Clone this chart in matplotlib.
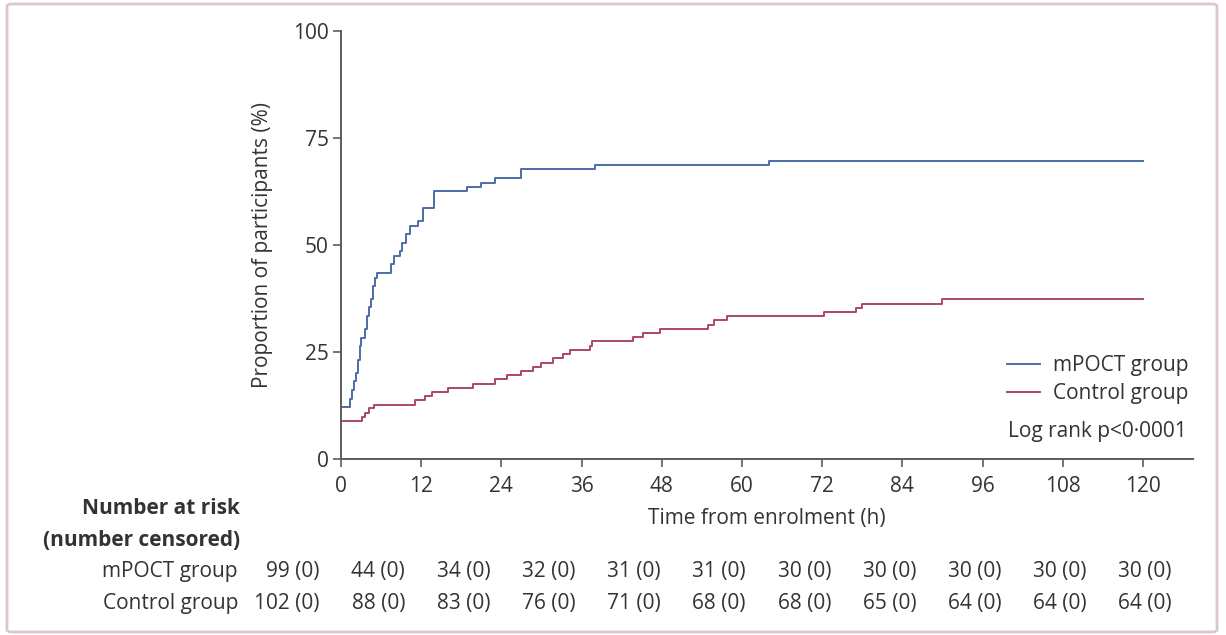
import matplotlib
matplotlib.use("Agg")
import matplotlib.pyplot as plt
from matplotlib.patches import FancyBboxPatch

plt.rcParams["font.family"] = ["Open Sans", "DejaVu Sans"]

# cumulative proportion (%) reaching the endpoint, step changes (time in h)
mpoct_time = [0, 1.4, 1.7, 2.0, 2.3, 2.6, 2.8, 3.0, 3.6, 3.9, 4.2, 4.5, 4.8, 5.1,
              5.4, 7.5, 7.9, 8.8, 9.2, 9.8, 10.3, 11.5, 12.2, 13.9, 18.8, 21.0,
              23.0, 27.0, 38.0, 64.0, 120]
mpoct_pct = [12.1, 14.1, 16.2, 18.2, 20.2, 23.2, 26.3, 28.3, 30.3, 33.3, 35.4,
             37.4, 40.4, 42.4, 43.4, 45.5, 47.5, 48.5, 50.5, 52.5, 54.5, 55.6,
             58.6, 62.6, 63.6, 64.6, 65.7, 67.7, 68.7, 69.7, 69.7]

control_time = [0, 3.1, 3.6, 4.2, 5.0, 11.1, 12.5, 13.6, 16.0, 19.8, 23.0, 24.8,
                27.0, 28.8, 30.0, 31.7, 33.2, 34.2, 37.3, 37.6, 43.7, 45.2, 47.8,
                54.9, 55.8, 57.8, 72.3, 77.1, 78.0, 90.0, 120]
control_pct = [8.8, 9.8, 10.8, 11.8, 12.7, 13.7, 14.7, 15.7, 16.7, 17.6, 18.6,
               19.6, 20.6, 21.6, 22.5, 23.5, 24.5, 25.5, 26.5, 27.5, 28.4, 29.4,
               30.4, 31.4, 32.4, 33.3, 34.3, 35.3, 36.3, 37.3, 37.3]

x_ticks = list(range(0, 121, 12))
y_ticks = [0, 25, 50, 75, 100]

# number at risk (number censored)
mpoct_risk = [99, 44, 34, 32, 31, 31, 30, 30, 30, 30, 30]
mpoct_cens = [0] * 11
control_risk = [102, 88, 83, 76, 71, 68, 68, 65, 64, 64, 64]
control_cens = [0] * 11

BLUE = "#4d6ca8"
RED = "#ab4862"
TXT = "#333333"
AX = "#5c5c5c"
W, H = 1226, 635

fig = plt.figure(figsize=(W / 100, H / 100), dpi=100)
fig.patches.append(FancyBboxPatch((7 / W, 3 / H), 1210 / W, 628 / H,
                                  boxstyle="round,pad=0,rounding_size=0.004",
                                  transform=fig.transFigure, fill=False,
                                  edgecolor="#dcc6d1", linewidth=2))

ax = fig.add_axes([341 / W, 1 - 459 / H, (1193 - 341) / W, (459 - 31) / H])
ax.step(mpoct_time, mpoct_pct, where="post", color=BLUE, lw=1.4, label="mPOCT group")
ax.step(control_time, control_pct, where="post", color=RED, lw=1.4, label="Control group")

ax.set_xlim(0, 127.5)
ax.set_ylim(0, 100)
ax.set_xticks(x_ticks)
ax.set_yticks(y_ticks)
for s in ("top", "right"):
    ax.spines[s].set_visible(False)
for s in ("left", "bottom"):
    ax.spines[s].set_color(AX)
    ax.spines[s].set_linewidth(1.4)
ax.tick_params(colors=AX, width=1.2, length=6, labelsize=15, labelcolor=TXT)
ax.tick_params(axis="x", pad=6)
ax.tick_params(axis="y", pad=3)
ax.set_xlabel("Time from enrolment (h)", fontsize=15, color=TXT, labelpad=8)
ax.set_ylabel("Proportion of participants (%)", fontsize=15, color=TXT, labelpad=14)

leg = ax.legend(loc="upper left", bbox_to_anchor=(1007 / W, 1 - 355 / H),
                bbox_transform=fig.transFigure, frameon=False, fontsize=15,
                handlelength=1.6, handletextpad=0.6, labelspacing=0.35,
                borderpad=0, borderaxespad=0)
for t in leg.get_texts():
    t.set_color(TXT)
fig.text(1008 / W, 1 - 431 / H, "Log rank p<0·0001", fontsize=15, color=TXT,
         ha="left", va="center")

# risk table
fig.text(240 / W, 1 - 508 / H, "Number at risk", fontsize=15, fontweight="bold",
         color=TXT, ha="right", va="center")
fig.text(240 / W, 1 - 541 / H, "(number censored)", fontsize=15, fontweight="bold",
         color=TXT, ha="right", va="center")
rows = [("mPOCT group", mpoct_risk, mpoct_cens, 572),
        ("Control group", control_risk, control_cens, 603)]
for name, risk, cens, ypx in rows:
    fig.text(238 / W, 1 - ypx / H, name, fontsize=15, color=TXT, ha="right", va="center")
    for i, (r, c) in enumerate(zip(risk, cens)):
        fig.text((320 + 85.2 * i) / W, 1 - ypx / H, f"{r} ({c})", fontsize=15,
                 color=TXT, ha="right", va="center")

fig.savefig("out.png", dpi=100, facecolor="white")
